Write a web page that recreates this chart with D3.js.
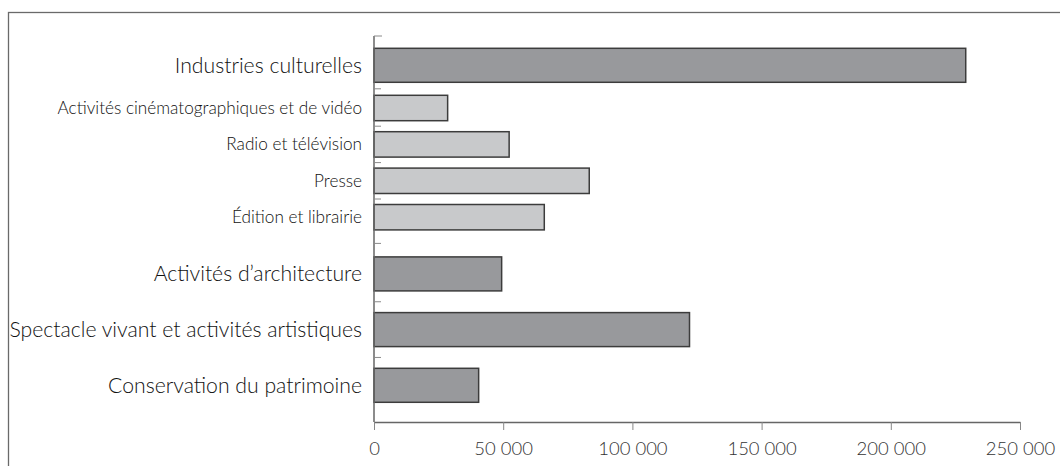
<!DOCTYPE html>
<html><head><meta charset="utf-8">
<script src="https://cdn.jsdelivr.net/npm/d3@7"></script>
<style>
html,body{margin:0;padding:0;background:#fff;}
svg{display:block;}
</style></head>
<body>
<svg id="chart" width="1060" height="466"></svg>
<script>
// ---- data ----
const categories = [
  "Industries culturelles",
  "Activités cinématographiques et de vidéo",
  "Radio et télévision",
  "Presse",
  "Édition et librairie",
  "Activités d’architecture",
  "Spectacle vivant et activités artistiques",
  "Conservation du patrimoine"
];
const levels = [0, 1, 1, 1, 1, 0, 0, 0]; // 0 = main sector, 1 = sub-sector
const values = [229000, 28500, 52300, 83300, 65900, 49400, 122100, 40500];
const xTicks = [0, 50000, 100000, 150000, 200000, 250000];

// ---- layout ----
const svg = d3.select("#chart");
const X0 = 374, X1 = 1020, Y0 = 36, Y1 = 422;

svg.append("rect").attr("x", 8.5).attr("y", 12.5).attr("width", 1080).attr("height", 500)
  .attr("fill", "none").attr("stroke", "#6a6a6a").attr("stroke-width", 1.3);

const x = d3.scaleLinear().domain([0, 250000]).range([X0, X1]);

// vertical layout in abstract units -> pixels via linear scale
const barH = l => l === 0 ? 34 : 25.4;
const gapFor = (a, b) => (a === 0 && b === 0) ? 21.7 : (a === 1 && b === 1) ? 11 : (a === 0 ? 13 : 27);
const topPad = 12.3, botPad = 19.7;
let cur = topPad;
const slots = [];
categories.forEach((c, i) => {
  if (i > 0) cur += gapFor(levels[i - 1], levels[i]);
  slots.push({start: cur, end: cur + barH(levels[i])});
  cur = slots[i].end;
});
const total = cur + botPad;
const y = d3.scaleLinear().domain([0, total]).range([Y0, Y1]);

// separator ticks on y axis
const sepTicks = [0];
for (let i = 1; i < slots.length; i++) sepTicks.push((slots[i - 1].end + slots[i].start) / 2);

const g = svg.append("g");

// bars
g.selectAll("rect.bar").data(values).join("rect")
  .attr("class", "bar")
  .attr("x", x(0))
  .attr("y", (d, i) => y(slots[i].start))
  .attr("width", d => x(d) - x(0))
  .attr("height", (d, i) => y(slots[i].end) - y(slots[i].start))
  .attr("fill", (d, i) => levels[i] === 0 ? "#98999c" : "#c8c9cb")
  .attr("stroke", "#3c3c3c").attr("stroke-width", 1.5);

// y axis line and ticks
g.append("line").attr("x1", X0).attr("x2", X0).attr("y1", Y0).attr("y2", Y1)
  .attr("stroke", "#666").attr("stroke-width", 1.5);
g.selectAll("line.ytick").data(sepTicks).join("line")
  .attr("class", "ytick")
  .attr("x1", X0).attr("x2", (d, i) => X0 + (i === 0 ? 8 : 7))
  .attr("y1", d => y(d)).attr("y2", d => y(d))
  .attr("stroke", "#8a8a8a").attr("stroke-width", 1);

// category labels
g.selectAll("text.cat").data(categories).join("text")
  .attr("class", "cat")
  .attr("x", 362)
  .attr("y", (d, i) => y((slots[i].start + slots[i].end) / 2))
  .attr("dy", "0.35em")
  .attr("text-anchor", "end")
  .attr("font-family", "Lato, 'Noto Sans', sans-serif")
  .attr("font-weight", 300)
  .attr("font-size", (d, i) => levels[i] === 0 ? 21.2 : 17.2)
  .attr("fill", "#111")
  .text(d => d);

// x axis
const xAxis = d3.axisBottom(x).tickValues(xTicks).tickSize(8).tickSizeOuter(0)
  .tickFormat(d => d === 0 ? "0" : d3.format(",")(d).replace(/,/g, " "));
const ax = svg.append("g").attr("transform", `translate(0,${Y1})`).call(xAxis);
ax.select(".domain").attr("stroke", "#666").attr("stroke-width", 1.5);
ax.selectAll(".tick line").attr("stroke", "#888").attr("stroke-width", 1);
ax.selectAll(".tick text").attr("y", 0).attr("dy", 0).attr("transform", "translate(0,33)")
  .attr("font-family", "Lato, 'Noto Sans', sans-serif").attr("font-weight", 300)
  .attr("font-size", 18.5).attr("fill", "#333");
</script>
</body></html>
